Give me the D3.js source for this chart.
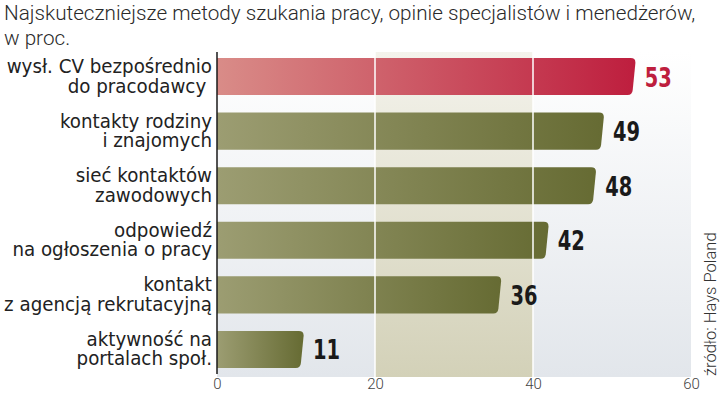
<!DOCTYPE html>
<html>
<head>
<meta charset="utf-8">
<script src="https://cdn.jsdelivr.net/npm/d3@7"></script>
<style>
  body { margin: 0; background: #fff; }
  svg { display: block; }
  .title { font-family: "Roboto", sans-serif; font-weight: 300; font-size: 20.7px; fill: #2a2a2a; }
  .cat { font-family: "DejaVu Sans Condensed", sans-serif; font-size: 20.3px; fill: #222; }
  .val { font-family: "DejaVu Sans Condensed", sans-serif; font-weight: 700; font-size: 27px; }
  .tick text { font-family: "Roboto", sans-serif; font-weight: 300; font-size: 15px; fill: #444; }
  .src { font-family: "Roboto", sans-serif; font-weight: 300; font-size: 16.5px; fill: #333; }
</style>
</head>
<body>
<svg id="chart" width="720" height="395"></svg>
<script>
// categories, each in two lines
var categories = [
  ['wysł. CV bezpośrednio', 'do pracodawcy\u00a0'],
  ['kontakty rodziny', 'i znajomych'],
  ['sieć kontaktów', 'zawodowych'],
  ['odpowiedź', 'na ogłoszenia o pracy'],
  ['kontakt', 'z agencją rekrutacyjną'],
  ['aktywność na', 'portalach społ.']
];
var values = [53, 49, 48, 42, 36, 11];
var ticks = [0, 20, 40, 60];
var titleLines = ['Najskuteczniejsze metody szukania pracy, opinie specjalistów i menedżerów,', 'w proc.'];
var source = 'źródło: Hays Poland';

var svg = d3.select('#chart'),
    margin = {top: 52, right: 29, bottom: 21, left: 217},
    width = 720 - margin.left - margin.right,
    height = 395 - margin.top - margin.bottom;

var x = d3.scaleLinear().domain([0, 60]).range([0, width]);
var y = d3.scaleBand()
    .domain(d3.range(values.length))
    .range([0, height])
    .paddingInner(0.32)
    .paddingOuter(0.11);

var defs = svg.append('defs');

var bg = defs.append('linearGradient').attr('id', 'bg')
    .attr('x1', 0).attr('y1', 0).attr('x2', 0).attr('y2', 1);
bg.append('stop').attr('offset', '0%').attr('stop-color', '#ffffff');
bg.append('stop').attr('offset', '100%').attr('stop-color', '#e2e6eb');

var band = defs.append('linearGradient').attr('id', 'band')
    .attr('x1', 0).attr('y1', 0).attr('x2', 0).attr('y2', 1);
band.append('stop').attr('offset', '0%').attr('stop-color', '#f4f3ec');
band.append('stop').attr('offset', '100%').attr('stop-color', '#d3d1b8');

var red = defs.append('linearGradient').attr('id', 'gradRed')
    .attr('x1', 0).attr('y1', 0).attr('x2', 1).attr('y2', 0);
red.append('stop').attr('offset', '0%').attr('stop-color', '#d98c88');
red.append('stop').attr('offset', '100%').attr('stop-color', '#be1e3e');

var olive = defs.append('linearGradient').attr('id', 'gradOlive')
    .attr('x1', 0).attr('y1', 0).attr('x2', 1).attr('y2', 0);
olive.append('stop').attr('offset', '0%').attr('stop-color', '#9c9d72');
olive.append('stop').attr('offset', '100%').attr('stop-color', '#666b33');

// title
svg.selectAll('.title')
    .data(titleLines)
    .enter().append('text')
    .attr('class', 'title')
    .attr('x', 4)
    .attr('y', function(d, i) { return 20 + i * 25; })
    .text(function(d) { return d; });

var g = svg.append('g')
    .attr('transform', 'translate(' + margin.left + ',' + margin.top + ')');

// plot background + shaded band between 20 and 40
g.append('rect')
    .attr('x', 0).attr('y', 0)
    .attr('width', x(60)).attr('height', height + 3)
    .attr('fill', 'url(#bg)');
g.append('rect')
    .attr('x', x(20)).attr('y', 0)
    .attr('width', x(40) - x(20)).attr('height', height + 3)
    .attr('fill', 'url(#band)');

// bars with rounded, slightly slanted right end
function barPath(v, i) {
    var x1 = x(v), y0 = y(i), h = y.bandwidth(), r = 5, s = 3;
    return 'M0,' + y0 +
        'L' + (x1 - r) + ',' + y0 +
        'Q' + x1 + ',' + y0 + ' ' + (x1 - 0.3) + ',' + (y0 + r) +
        'L' + (x1 - s) + ',' + (y0 + h - r) +
        'Q' + (x1 - s - 0.5) + ',' + (y0 + h) + ' ' + (x1 - s - r) + ',' + (y0 + h) +
        'L0,' + (y0 + h) + 'Z';
}

g.selectAll('.bar')
    .data(values)
    .enter().append('path')
    .attr('class', 'bar')
    .attr('d', function(d, i) { return barPath(d, i); })
    .attr('fill', function(d, i) { return i === 0 ? 'url(#gradRed)' : 'url(#gradOlive)'; });

// white grid lines over bars
g.selectAll('.grid')
    .data([20, 40])
    .enter().append('line')
    .attr('x1', function(d) { return x(d); })
    .attr('x2', function(d) { return x(d); })
    .attr('y1', 0).attr('y2', height + 3)
    .attr('stroke', '#fff')
    .attr('stroke-width', 1.5);

// value labels, squeezed horizontally to look condensed
g.selectAll('.val')
    .data(values)
    .enter().append('text')
    .attr('class', 'val')
    .attr('transform', function(d, i) {
        return 'translate(' + (x(d) + 9) + ',' + (y(i) + y.bandwidth() / 2 + 10) + ') scale(0.8,1)';
    })
    .attr('fill', function(d, i) { return i === 0 ? '#be1e3e' : '#1a1a1a'; })
    .text(function(d) { return d; });

// category labels
var cat = g.selectAll('.cat')
    .data(categories)
    .enter().append('text')
    .attr('class', 'cat')
    .attr('text-anchor', 'end')
    .attr('x', -5)
    .attr('y', function(d, i) { return y(i) + y.bandwidth() / 2; });
cat.selectAll('tspan')
    .data(function(d) { return d; })
    .enter().append('tspan')
    .attr('x', -5)
    .attr('dy', function(d, j) { return j === 0 ? -3.5 : 19.5; })
    .text(function(d) { return d; });

// left axis line
g.append('line')
    .attr('x1', 0).attr('x2', 0)
    .attr('y1', 0).attr('y2', height)
    .attr('stroke', '#1a1a1a')
    .attr('stroke-width', 1.5);

// x axis ticks
var xAxis = g.append('g')
    .attr('class', 'x axis')
    .attr('transform', 'translate(0,' + height + ')')
    .call(d3.axisBottom(x).tickValues(ticks).tickSize(0).tickPadding(4));
xAxis.select('.domain').remove();

// source
svg.append('text')
    .attr('class', 'src')
    .attr('transform', 'translate(716,376) rotate(-90)')
    .text(source);
</script>
</body>
</html>
